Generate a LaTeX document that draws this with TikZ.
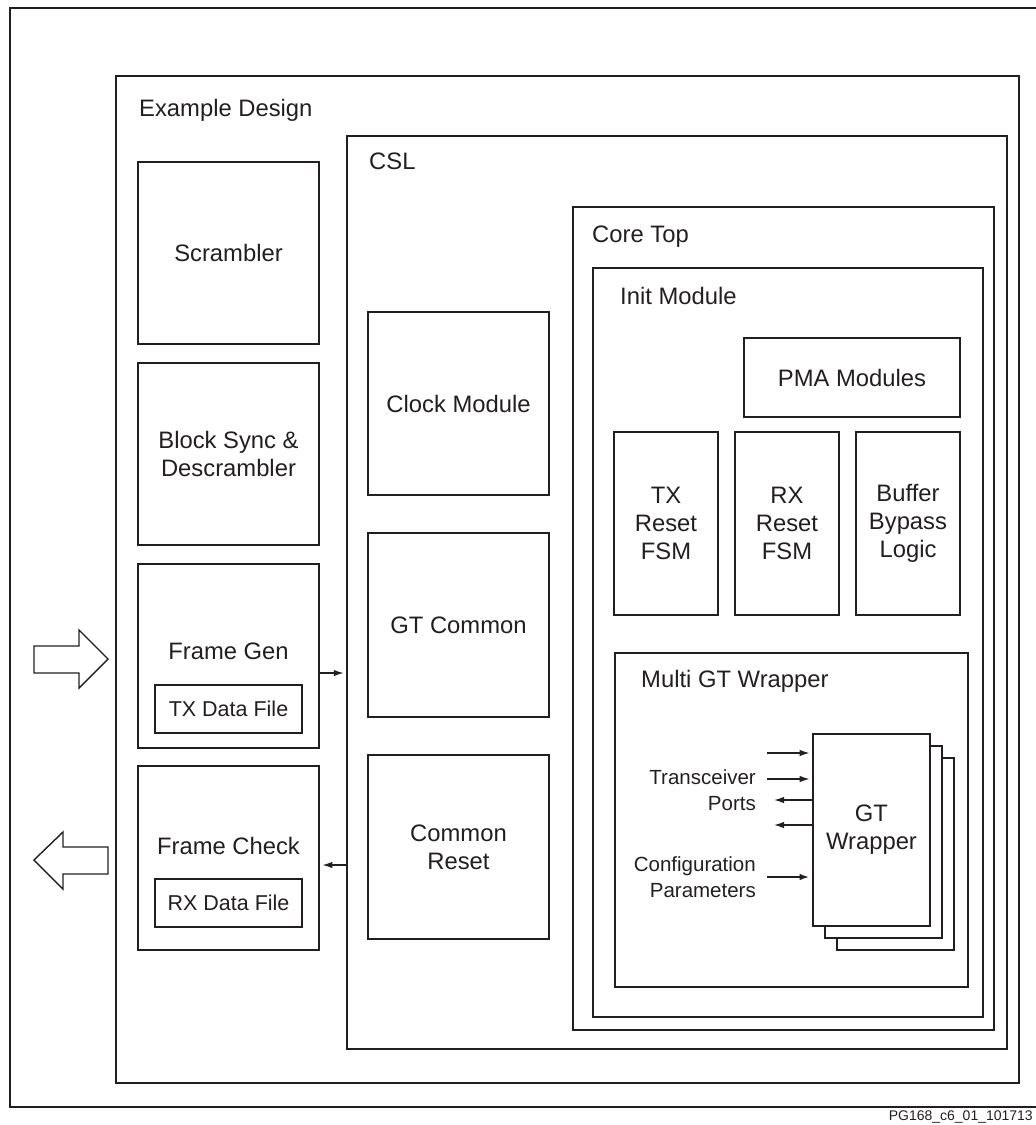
\documentclass[tikz,border=0pt]{standalone}
\usepackage{fontspec}
\setmainfont{Liberation Sans}
\usetikzlibrary{arrows.meta}
\definecolor{ink}{HTML}{231F20}

\tikzset{
  blk/.style={draw=ink, line width=2.7pt, inner sep=0pt, align=center, text=ink, fill=white},
  frame/.style={draw=ink, line width=2.5pt, inner sep=0pt},
  datafile/.style={draw=ink, line width=1.5pt, inner sep=0pt, minimum width=147, minimum height=48,
    text=ink, font=\fontsize{21.5}{26}\selectfont},
  ttl/.style={anchor=base west, inner sep=0pt, text=ink},
  txt/.style={inner sep=0pt, text=ink, align=center},
  portlbl/.style={anchor=east, align=right, inner sep=0pt, text=ink, font=\fontsize{20.5}{26}\selectfont},
  port/.style={ink, line width=1.4pt, shorten >=2pt, -{Latex[length=10pt,width=6.5pt]}},
  bigarrow/.style={draw=ink, line width=1.4pt, line join=miter}
}

\begin{document}
\begin{tikzpicture}[x=1pt,y=-1pt,font=\fontsize{23.8}{27.8}\selectfont]
\useasboundingbox (0,0) rectangle (1036,1125);

% nested frames
\node[frame, minimum width=1040, minimum height=1099] (outer) at (530,557.5) {};
\node[frame, minimum width=903, minimum height=1007] (exdesign) at (567.5,579.5) {};
\node[ttl] (exlbl) at (139,116) {Example Design};
\node[frame, minimum width=660, minimum height=913] (csl) at (677,592.5) {};
\node[ttl] (csllbl) at (369,169) {CSL};
\node[frame, minimum width=421, minimum height=823] (coretop) at (783.5,618.5) {};
\node[ttl] (corelbl) at (592,242) {Core Top};
\node[frame, minimum width=390, minimum height=749] (initmod) at (788,642.5) {};
\node[ttl] (initlbl) at (620,304) {Init Module};
\node[frame, minimum width=353, minimum height=334] (multigt) at (791.5,820) {};
\node[ttl] (multilbl) at (641,687) {Multi GT Wrapper};

% example design blocks
\node[blk, minimum width=181, minimum height=182] (scrambler) at (228.5,253) {Scrambler};
\node[blk, minimum width=181, minimum height=182] (blocksync) at (228.5,454) {Block Sync \&\\Descrambler};
\node[blk, minimum width=181, minimum height=184] (framegen) at (228.5,656) {};
\node[txt] (fglbl) at (228.5,651) {Frame Gen};
\node[datafile] (txfile) at (228.5,709) {TX Data File};
\node[blk, minimum width=181, minimum height=184] (framecheck) at (228.5,858) {};
\node[txt] (fclbl) at (228.5,846) {Frame Check};
\node[datafile] (rxfile) at (228.5,903) {RX Data File};

% CSL blocks
\node[blk, minimum width=181, minimum height=183] (clockmod) at (458.5,403.5) {Clock Module};
\node[blk, minimum width=181, minimum height=184] (gtcommon) at (458.5,625) {GT Common};
\node[blk, minimum width=181, minimum height=184] (commonrst) at (458.5,847) {Common\\Reset};

% init module blocks
\node[blk, minimum width=216, minimum height=79] (pma) at (852,377.5) {PMA Modules};
\node[blk, minimum width=104, minimum height=183] (txfsm) at (666,523.5) {TX\\Reset\\FSM};
\node[blk, minimum width=104, minimum height=183] (rxfsm) at (787,523.5) {RX\\Reset\\FSM};
\node[blk, minimum width=104, minimum height=183] (bufbyp) at (908,523.5) {Buffer\\Bypass\\Logic};

% GT wrapper stack
\node[blk, minimum width=117, minimum height=192] (gtw3) at (895.5,854) {};
\node[blk, minimum width=117, minimum height=192] (gtw2) at (883.5,842) {};
\node[blk, minimum width=117, minimum height=192] (gtw) at (871.5,830) {GT\\Wrapper};

\node[portlbl] (trxlbl) at (756,790) {Transceiver\\Ports};
\node[portlbl] (cfglbl) at (756,877) {Configuration\\Parameters};

\coordinate (tp1) at (767,753);
\coordinate (tp2) at (767,779);
\coordinate (tp3) at (772,800);
\coordinate (tp4) at (772,825);
\coordinate (cfg) at (767,877);
\draw[port] (tp1) -- (gtw.west |- tp1);
\draw[port] (tp2) -- (gtw.west |- tp2);
\draw[port] (gtw.west |- tp3) -- (tp3);
\draw[port] (gtw.west |- tp4) -- (tp4);
\draw[port, line width=2.5pt] (cfg) -- (gtw.west |- cfg);

% data to/from CSL
\coordinate (fgout) at (319,673);
\coordinate (fcin) at (347,865);
\draw[port] (framegen.east |- fgout) -- (csl.west |- fgout);
\draw[port] (csl.west |- fcin) -- (framecheck.east |- fcin);

% hollow I/O arrows
\draw[bigarrow] (34,646) -- (79,646) -- (79,630) -- (108,659) -- (79,688) -- (79,673) -- (34,673) -- cycle;
\draw[bigarrow] (34,860) -- (63,832) -- (63,847) -- (108,847) -- (108,874) -- (63,874) -- (63,889) -- cycle;

\node[anchor=base east, inner sep=0pt, text=ink, font=\fontsize{14}{16}\selectfont] (figid) at (1033,1120) {PG168\_c6\_01\_101713};
\end{tikzpicture}
\end{document}
